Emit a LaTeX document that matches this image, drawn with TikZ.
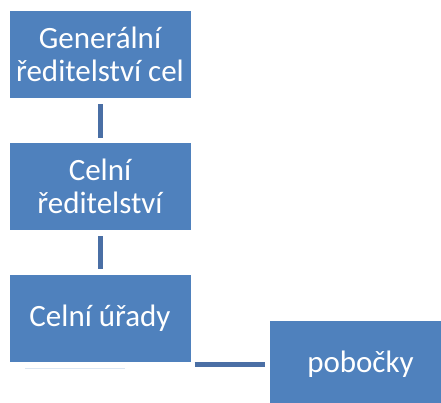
\documentclass[tikz,border=0pt]{standalone}
\usepackage{fontspec}
\setmainfont{Carlito}
\definecolor{boxblue}{HTML}{4F81BD}
\definecolor{linkblue}{HTML}{4A6FA5}
\definecolor{faintblue}{HTML}{DCE6F2}
\tikzset{
  orgbox/.style={fill=boxblue, draw=none, minimum width=181pt, minimum height=87pt,
    text=white, align=center, inner sep=0pt,
    font=\fontsize{31}{33}\selectfont},
  link/.style={draw=linkblue, line width=5pt}
}
\begin{document}
\begin{tikzpicture}[x=1pt,y=-1pt]
\useasboundingbox (0,0) rectangle (441,403);
\clip (0,0) rectangle (441,403);
\node[orgbox] (g) at (100,54.5) {Generální\\ředitelství cel};
\node[orgbox] (c) at (100,186.5) {Celní\\ředitelství};
\node[orgbox] (u) at (100,318.5) {Celní úřady};
\node[orgbox] (p) at (360.5,364.5) {pobočky};
\draw[link, shorten <=6pt, shorten >=5pt] (g.south) -- (c.north);
\draw[link, shorten <=6pt, shorten >=6pt] (c.south) -- (u.north);
\draw[link, shorten <=4pt, shorten >=5pt] (u.east |- p.west) -- (p.west);
\coordinate (f1) at (25,368.5);
\coordinate (f2) at (125,368.5);
\draw[faintblue, line width=1pt] (f1) -- (f2);
\end{tikzpicture}
\end{document}
